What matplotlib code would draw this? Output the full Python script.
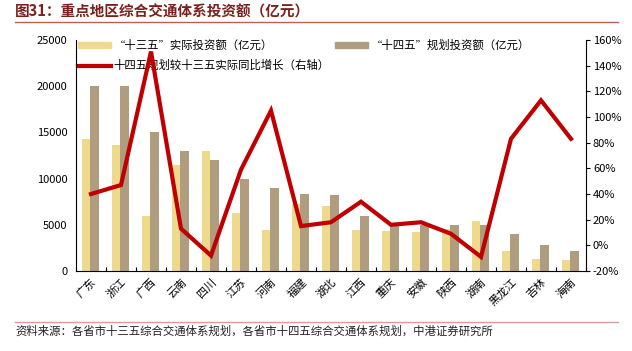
import matplotlib
matplotlib.use("Agg")
import matplotlib.pyplot as plt
from matplotlib.lines import Line2D
from matplotlib.ticker import FuncFormatter, FixedLocator
import numpy as np

plt.rcParams['font.family'] = ['Noto Sans CJK SC', 'DejaVu Sans']
plt.rcParams['axes.unicode_minus'] = False

categories = ['广东', '浙江', '广西', '云南', '四川', '江苏', '河南', '福建', '湖北',
              '江西', '重庆', '安徽', '陕西', '湖南', '黑龙江', '吉林', '海南']
actual_13 = [14300, 13600, 6000, 11500, 13000, 6300, 4400, 7200, 7000,
             4450, 4300, 4250, 4550, 5450, 2200, 1300, 1200]
plan_14 = [20000, 20000, 15000, 13000, 12000, 10000, 9000, 8300, 8200,
           6000, 5000, 5000, 5000, 5000, 4000, 2800, 2200]
growth = [0.40, 0.47, 1.51, 0.13, -0.08, 0.59, 1.05, 0.15, 0.18,
          0.34, 0.16, 0.18, 0.09, -0.09, 0.83, 1.13, 0.83]

label_13 = '“十三五”实际投资额（亿元）'
label_14 = '“十四五”规划投资额（亿元）'
label_growth = '十四五规划较十三五实际同比增长（右轴）'
title = '图31：重点地区综合交通体系投资额（亿元）'
source = '资料来源：各省市十三五综合交通体系规划，各省市十四五综合交通体系规划，中港证券研究所'

c13 = '#EFD98C'
c14 = '#B09C7E'
cline = '#C00000'

fig = plt.figure(figsize=(6.32, 3.51), dpi=100)
ax = fig.add_axes([76/632, 1-271/351, (586-76)/632, (271-40)/351])
x = np.arange(len(categories))
w = 0.28
ax.bar(x - 0.16, actual_13, width=w, color=c13, label=label_13, zorder=2)
ax.bar(x + 0.12, plan_14, width=w, color=c14, label=label_14, zorder=2)
ax.set_xlim(-0.5, len(categories) - 0.5)
ax.set_ylim(0, 25000)
ax.set_yticks(range(0, 25001, 5000))
ax.tick_params(axis='y', length=0, labelsize=8, pad=6)
ax.set_xticks(x)
ax.set_xticklabels(categories, rotation=45, ha='right', rotation_mode='anchor', fontsize=8)
ax.tick_params(axis='x', length=0, pad=4)
ax.xaxis.set_minor_locator(FixedLocator(np.arange(-0.5, len(categories), 1.0)))
ax.tick_params(axis='x', which='minor', direction='in', length=3, width=0.8)
for s in ['top', 'right']:
    ax.spines[s].set_visible(False)
ax.spines['left'].set_linewidth(0.8)
ax.spines['bottom'].set_linewidth(0.8)

ax2 = ax.twinx()
ax2.plot(x, growth, color=cline, linewidth=3, solid_joinstyle='miter', zorder=3)
ax2.set_ylim(-0.2, 1.6)
ax2.set_yticks(np.arange(-0.2, 1.61, 0.2))
ax2.yaxis.set_major_formatter(FuncFormatter(lambda v, p: f'{round(v*100):d}%'))
ax2.tick_params(axis='y', length=3, direction='out', labelsize=8, pad=2)
for s in ['top', 'left']:
    ax2.spines[s].set_visible(False)
ax2.spines['right'].set_linewidth(0.8)
ax2.spines['bottom'].set_visible(False)

handles = [
    plt.Rectangle((0, 0), 1, 1, color=c13),
    Line2D([0], [0], color=cline, linewidth=3),
    plt.Rectangle((0, 0), 1, 1, color=c14),
]
leg = ax.legend(handles, [label_13, label_growth, label_14], ncol=2, loc='upper left',
                bbox_to_anchor=(-0.009, 1.03), frameon=False, fontsize=8.2,
                handlelength=2.9, handleheight=0.5, handletextpad=0.2,
                columnspacing=0.5, labelspacing=0.75, borderaxespad=0.2)
leg.set_zorder(1)

fig.text(15/632, 1-12/351, title, fontsize=10.5, fontweight='bold', color='#7B1F1F',
         va='center', ha='left')
fig.add_artist(Line2D([15/632, 618/632], [1-22/351, 1-22/351], color='#B5654F', linewidth=1.0))
fig.add_artist(Line2D([15/632, 618/632], [1-322/351, 1-322/351], color='#D9A090', linewidth=1.0))
fig.text(15/632, 1-331/351, source, fontsize=8.2, style='italic', color='#222222',
         va='center', ha='left')

fig.savefig('out.png', dpi=100)
